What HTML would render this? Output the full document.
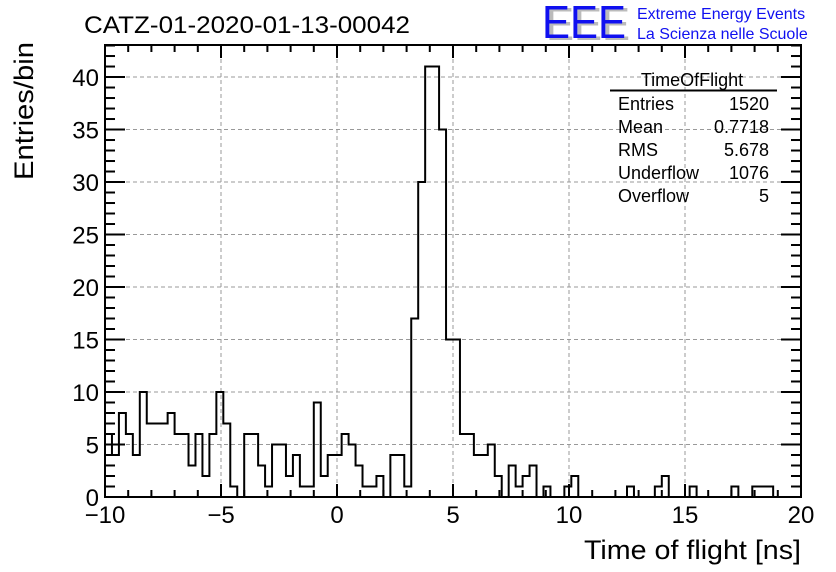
<!DOCTYPE html>
<html><head><meta charset="utf-8"><style>
body{margin:0;background:#fff;}
svg{display:block;font-family:"Liberation Sans",Arial,sans-serif;}
</style></head><body>
<svg id="chart" width="836" height="572" viewBox="0 0 836 572">
<rect x="0" y="0" width="836" height="572" fill="#fff"/>
<g id="grid"></g>
<g id="hist"></g>
<g id="axes"></g>
<text x="84" y="33" font-size="24" fill="#000" textLength="326" lengthAdjust="spacingAndGlyphs">CATZ-01-2020-01-13-00042</text>
<text x="546" y="40" font-size="46" fill="#bbb" textLength="84" lengthAdjust="spacingAndGlyphs">EEE</text>
<text x="542" y="38" font-size="46" fill="#1010f0" textLength="84" lengthAdjust="spacingAndGlyphs">EEE</text>
<text x="637" y="19" font-size="16" fill="#1010f0">Extreme Energy Events</text>
<text x="637" y="39" font-size="16" fill="#1010f0">La Scienza nelle Scuole</text>
<text x="801" y="559" font-size="27" text-anchor="end" textLength="217" lengthAdjust="spacingAndGlyphs">Time of flight [ns]</text>
<text transform="translate(33,180) rotate(-90)" font-size="27" textLength="138" lengthAdjust="spacingAndGlyphs">Entries/bin</text>
<g font-size="18">
<text x="692" y="86" text-anchor="middle">TimeOfFlight</text>
<line x1="610" y1="90.5" x2="777" y2="90.5" stroke="#000" stroke-width="2"/>
<text x="618" y="110">Entries</text><text x="769" y="110" text-anchor="end">1520</text>
<text x="618" y="133">Mean</text><text x="769" y="133" text-anchor="end">0.7718</text>
<text x="618" y="156">RMS</text><text x="769" y="156" text-anchor="end">5.678</text>
<text x="618" y="179">Underflow</text><text x="769" y="179" text-anchor="end">1076</text>
<text x="618" y="202">Overflow</text><text x="769" y="202" text-anchor="end">5</text>
</g>
</svg>
<script>
const xMin = -10, xMax = 20;
const yMax = 43.05;
const xTicks = [-10, -5, 0, 5, 10, 15, 20];
const xTickLabels = ["\u221210", "\u22125", "0", "5", "10", "15", "20"];
const yTicks = [0, 5, 10, 15, 20, 25, 30, 35, 40];
const binCounts = [
 6,4,8,6,4,10,7,7,7,8, 6,6,3,6,2,6,10,7,1,0,
 6,6,3,1,5,5,2,4,1,1, 9,2,4,4,6,5,3,1,1,2,
 0,4,4,1,17,30,41,41,35,15, 15,6,6,4,4,5,2,0,3,1,
 2,3,0,1,0,0,1,2,0,0, 0,0,0,0,0,1,0,0,0,1,
 2,0,0,0,1,0,0,0,0,0, 1,0,0,1,1,1,0,0,0,0
];
const L=105,R=801,T=45,B=497;
function xs(v){return L+(v-xMin)/(xMax-xMin)*(R-L);}
function ys(v){return B-v/yMax*(B-T);}
const NS="http://www.w3.org/2000/svg";
function mk(tag,attrs,parent){const e=document.createElementNS(NS,tag);for(const k in attrs)e.setAttribute(k,attrs[k]);parent.appendChild(e);return e;}
const grid=document.getElementById('grid'),axes=document.getElementById('axes'),hist=document.getElementById('hist');
xTicks.forEach(v=>{if(v>xMin&&v<xMax){const l=mk('line',{x1:xs(v),x2:xs(v),y1:T,y2:B,stroke:'#999','stroke-dasharray':'4,3','stroke-width':1},grid);

}});
yTicks.forEach(v=>{if(v>0){const l=mk('line',{x1:L,x2:R,y1:ys(v),y2:ys(v),stroke:'#999','stroke-dasharray':'4,3','stroke-width':1},grid);

}});
const bw=(xMax-xMin)/binCounts.length;
let d='M'+xs(xMin)+','+ys(0);
binCounts.forEach((c,i)=>{const x0=xs(xMin+i*bw),x1=xs(xMin+(i+1)*bw);d+=' L'+x0+','+ys(c)+' L'+x1+','+ys(c);});
d+=' L'+xs(xMax)+','+ys(0);
const p=mk('path',{d:d,fill:'none',stroke:'#000','stroke-width':2},hist);


const fr=mk('rect',{x:L,y:T,width:R-L,height:B-T,fill:'none',stroke:'#000','stroke-width':2},axes);


for(let v=xMin;v<=xMax;v+=1){const maj=(v%5===0);const len=maj?13:7;
mk('line',{x1:xs(v),x2:xs(v),y1:B,y2:B-len,stroke:'#000','stroke-width':2},axes);
mk('line',{x1:xs(v),x2:xs(v),y1:T,y2:T+len,stroke:'#000','stroke-width':2},axes);}
for(let v=0;v<=43;v+=1){const maj=(v%5===0);const len=maj?20:10;
mk('line',{x1:L,x2:L+len,y1:ys(v),y2:ys(v),stroke:'#000','stroke-width':2},axes);
mk('line',{x1:R,x2:R-len,y1:ys(v),y2:ys(v),stroke:'#000','stroke-width':2},axes);}
xTicks.forEach((v,i)=>{const t=mk('text',{x:xs(v),y:523,'font-size':24,'text-anchor':'middle'},axes);t.textContent=xTickLabels[i];

});
yTicks.forEach(v=>{const t=mk('text',{x:99,y:ys(v)+9,'font-size':24,'text-anchor':'end'},axes);t.textContent=String(v);

});
</script>
</body></html>
